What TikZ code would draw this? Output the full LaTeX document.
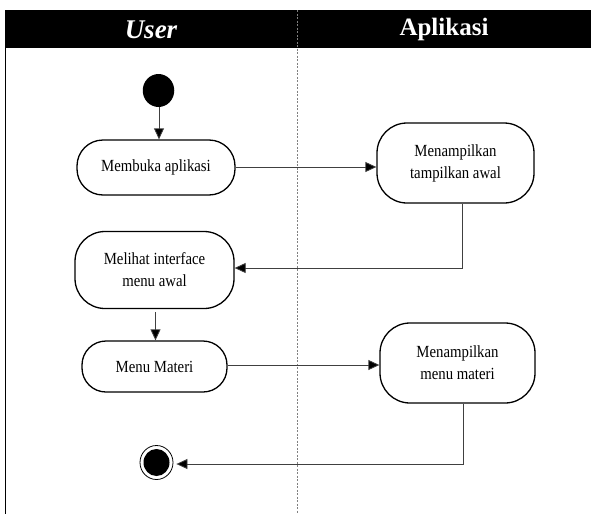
\documentclass[tikz,border=0pt]{standalone}
\usepackage{fontspec}
\setmainfont{Liberation Serif}
\newfontfamily\actfont[FakeStretch=0.87]{Liberation Serif}
\usetikzlibrary{arrows.meta,shapes.geometric}
\begin{document}
\begin{tikzpicture}[x=1pt,y=-1pt,
  act/.style={draw, line width=1.3pt, rounded corners=24pt, fill=white,
    align=center, font=\actfont\fontsize{17}{22}\selectfont, inner sep=0pt},
  flow/.style={draw=black!75, line width=0.8pt, -{Triangle[length=11pt,width=10pt,fill=black]}},
  lane/.style={text=white}]
  \useasboundingbox (0,0) rectangle (591,514);
  % swimlane frame
  \fill (5,10) rectangle (591,48);
  \draw[line width=1.2pt] (5.5,48) -- (5.5,514);
  \draw[gray, line width=0.6pt, dash pattern=on 2pt off 1.5pt] (297,10) -- (297,514);
  \node[lane, font=\bfseries\itshape\fontsize{27}{30}\selectfont] (hu) at (151,29.5) {User};
  \node[lane, font=\bfseries\fontsize{25}{28}\selectfont] (ha) at (444,29.5) {Aplikasi};
  % start and end
  \node[ellipse, fill=black, minimum width=31.5pt, minimum height=33pt, inner sep=0pt] (start) at (158.5,90.5) {};
  \node[ellipse, draw, line width=0.8pt, minimum width=33pt, minimum height=34pt, inner sep=0pt] (end) at (156.5,462.5) {};
  \fill (end.center) ellipse [x radius=13pt, y radius=13.5pt];
  % activities
  \node[act, minimum width=158pt, minimum height=55pt, rounded corners=26pt] (a1) at (156,167.5) {Membuka aplikasi};
  \node[act, minimum width=157pt, minimum height=80pt, rounded corners=30pt] (a2) at (455.5,163) {Menampilkan\\tampilkan awal};
  \node[act, minimum width=159pt, minimum height=77pt, rounded corners=30pt] (a3) at (154.5,270) {Melihat interface\\menu awal};
  \node[act, minimum width=145pt, minimum height=51pt, rounded corners=24pt] (a4) at (154.5,366.5) {Menu Materi};
  \node[act, minimum width=155pt, minimum height=80pt, rounded corners=30pt] (a5) at (457.5,363) {Menampilkan\\menu materi};
  % transitions
  \draw[flow] (start.south -| 159,0) -- (a1.north -| 159,0);
  \draw[flow] (a1.east |- 0,167) -- (a2.west |- 0,167);
  \draw[flow] (a2.south -| 462,0) |- (a3.east |- 0,268);
  \draw[flow] (a3.south -| 155.5,0) ++(0,3) -- (a4.north -| 155.5,0);
  \draw[flow] (a4.east |- 0,365) -- (a5.west |- 0,365);
  \draw[flow] (a5.south -| 463.5,0) |- ([xshift=3pt]end.east |- 0,464);
\end{tikzpicture}
\end{document}
